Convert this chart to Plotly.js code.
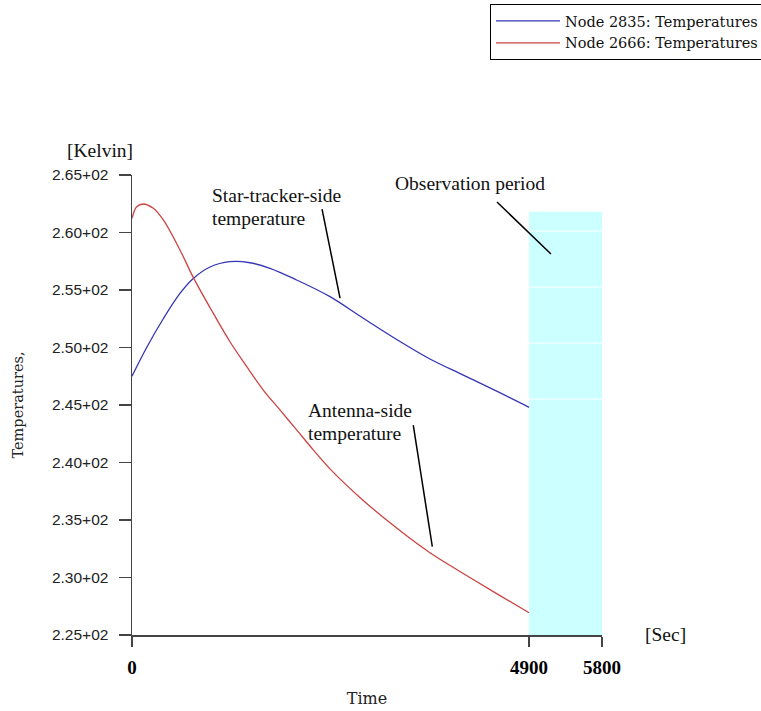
<!DOCTYPE html>
<html>
<head>
<meta charset="utf-8">
<script src="https://cdn.plot.ly/plotly-3.0.1.min.js"></script>
<style>html,body{margin:0;padding:0;background:#fff;}#chart{width:761px;height:711px;}</style>
</head>
<body>
<div id="chart"></div>
<script>
// Node 2835 (star-tracker side) temperatures [K] vs time [s]
var blueTime = [0, 181, 386, 592, 756, 963, 1209, 1456, 1703, 2032, 2443, 2854, 3266, 3677, 4088, 4500, 4900];
var blueTemp = [247.5, 250.0, 252.5, 254.7, 256.0, 257.0, 257.46, 257.37, 256.89, 255.87, 254.42, 252.54, 250.7, 249.0, 247.6, 246.2, 244.8];
// Node 2666 (antenna side) temperatures [K] vs time [s]
var redTime = [0, 58, 139, 263, 386, 592, 756, 1003, 1209, 1415, 1620, 1826, 2032, 2237, 2443, 2854, 3266, 3677, 4088, 4500, 4900];
var redTemp = [261.23, 262.24, 262.48, 262.1, 261.09, 258.48, 256.1, 252.97, 250.5, 248.35, 246.3, 244.57, 242.83, 241.1, 239.45, 236.7, 234.3, 232.15, 230.35, 228.6, 226.94];

var seriesNames = ["Node 2835: Temperatures", "Node 2666: Temperatures"];
var xTickVals = [0, 4900, 5800];
var xTickText = ["0", "4900", "5800"];
var yTickVals = [225, 230, 235, 240, 245, 250, 255, 260, 265];
var yTickText = ["2.25+02", "2.30+02", "2.35+02", "2.40+02", "2.45+02", "2.50+02", "2.55+02", "2.60+02", "2.65+02"];
var obsStart = 4900, obsEnd = 5800, obsTop = 261.8;
var obsBands = [260.13, 255.26, 250.39, 245.52];

var axisColor = '#444';
var traces = [
  {x: blueTime, y: blueTemp, name: seriesNames[0], legendgroup: 'a', type: 'scatter', mode: 'lines',
   line: {color: '#3535b5', width: 1.3, shape: 'spline', smoothing: 1.0}},
  {x: redTime, y: redTemp, name: seriesNames[1], legendgroup: 'b', type: 'scatter', mode: 'lines',
   line: {color: '#cc4343', width: 1.3, shape: 'spline', smoothing: 1.0}}
];

var shapes = [
  {type: 'rect', xref: 'x', yref: 'y', x0: obsStart, x1: obsEnd, y0: 225, y1: obsTop,
   fillcolor: '#ccffff', line: {width: 0}, layer: 'below'}
];
obsBands.forEach(function (v) {
  shapes.push({type: 'line', xref: 'x', yref: 'y', x0: obsStart, x1: obsEnd, y0: v, y1: v,
    line: {color: '#ffffff', width: 1}, layer: 'below'});
});
// pointer lines
shapes.push({type: 'line', xref: 'x', yref: 'y', x0: 2345, y0: 262.04, x1: 2567, y1: 254.3, line: {color: '#000', width: 1.5}});
shapes.push({type: 'line', xref: 'x', yref: 'y', x0: 4504, y0: 262.65, x1: 5170, y1: 258.13, line: {color: '#000', width: 1.5}});
shapes.push({type: 'line', xref: 'x', yref: 'y', x0: 3471, y0: 243.26, x1: 3706, y1: 232.68, line: {color: '#000', width: 1.5}});

var annFont = {family: 'Liberation Serif, Times New Roman, serif', size: 19.5, color: '#111'};
function txt(t, x, y) {
  return {text: t, x: x, y: y, xref: 'x', yref: 'y', xanchor: 'left', yanchor: 'middle', showarrow: false, font: annFont};
}
var annotations = [
  txt('Star-tracker-side', 960, 263.26),
  txt('temperature', 960, 261.26),
  txt('Observation period', 3220, 264.22),
  txt('Antenna-side', 2150, 244.5),
  txt('temperature', 2150, 242.54),
  {text: '[Kelvin]', xref: 'paper', yref: 'paper', x: 0, y: 1, xshift: -32, yshift: 25,
   xanchor: 'center', yanchor: 'middle', showarrow: false, font: annFont},
  {text: '[Sec]', xref: 'paper', yref: 'paper', x: 1, y: 0, xshift: 63, yshift: 1,
   xanchor: 'center', yanchor: 'middle', showarrow: false, font: annFont}
];

var layout = {
  width: 761, height: 711,
  margin: {l: 132, r: 159, t: 175, b: 76, autoexpand: false},
  paper_bgcolor: '#fff', plot_bgcolor: '#fff',
  showlegend: true,
  legend: {x: (490 - 132) / 470, y: (635 - 4) / 460, xref: 'paper', yref: 'paper',
    xanchor: 'left', yanchor: 'top', bordercolor: '#000', borderwidth: 1, bgcolor: '#fff',
    itemwidth: 64, tracegroupgap: 0,
    font: {family: 'DejaVu Serif, serif', size: 14.5, color: '#111'}},
  xaxis: {range: [0, 5800], showgrid: false, zeroline: false, showline: true, automargin: false,
    linecolor: axisColor, linewidth: 1.5, ticks: 'outside', ticklen: 10, tickwidth: 1.5, tickcolor: axisColor,
    tickmode: 'array', tickvals: xTickVals, ticktext: xTickText, ticklabelstandoff: 5,
    tickfont: {family: 'Liberation Serif, Times New Roman, serif', size: 19, color: '#000', weight: 'bold'},
    title: {text: 'Time', standoff: 15, font: {family: 'DejaVu Serif, serif', size: 16, color: '#222'}}},
  yaxis: {range: [225, 265], showgrid: false, zeroline: false, showline: true, automargin: false,
    linecolor: axisColor, linewidth: 1.5, ticks: 'outside', ticklen: 12, tickwidth: 1.5, tickcolor: axisColor,
    tickmode: 'array', tickvals: yTickVals, ticktext: yTickText, ticklabelstandoff: 7,
    tickfont: {family: 'Liberation Sans, Arial, sans-serif', size: 15.5, color: '#222'},
    title: {text: 'Temperatures,', standoff: 25, font: {family: 'DejaVu Serif, serif', size: 14.5, color: '#222'}}},
  shapes: shapes,
  annotations: annotations
};

Plotly.newPlot('chart', traces, layout, {displayModeBar: false, staticPlot: true});
</script>
</body>
</html>
